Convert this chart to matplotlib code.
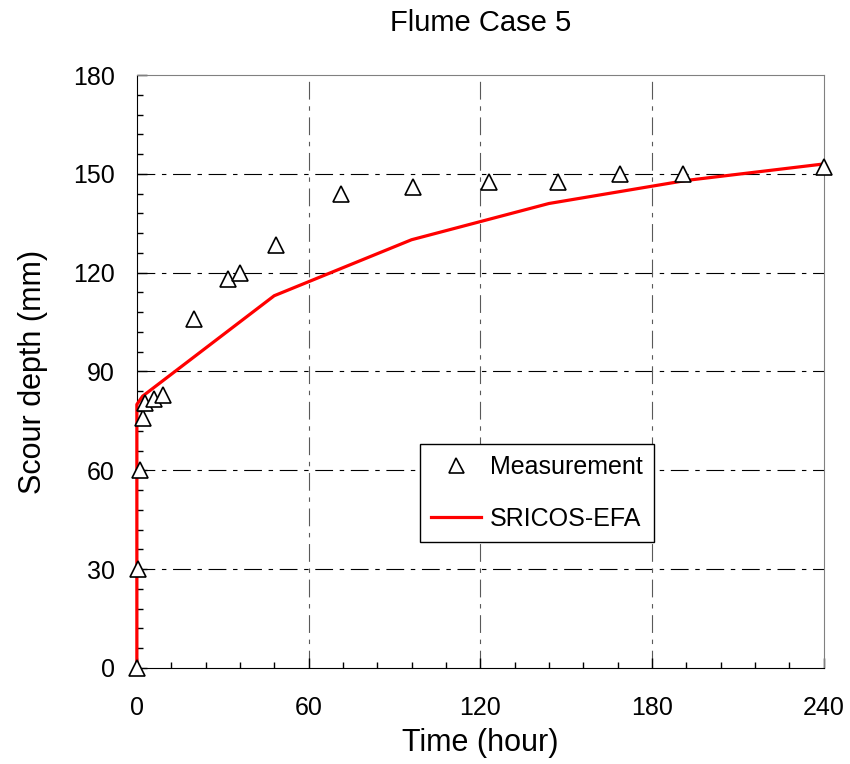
import numpy as np
import matplotlib
matplotlib.use('Agg')
import matplotlib.pyplot as plt
from matplotlib.ticker import MultipleLocator

plt.rcParams['font.family'] = ['Liberation Sans', 'DejaVu Sans']

# measured scour depth
meas_t = [0, 0.5, 1, 2, 3, 6, 9, 20, 32, 36, 48.5, 71.5, 96.5, 123, 147, 169, 191, 240]
meas_d = [0, 30, 60, 76, 80.5, 81.5, 83, 106, 118, 120, 128.5, 144, 146, 147.5, 147.5, 150, 150, 152]

# SRICOS-EFA prediction
pred_t = [0, 0, 2, 48, 72, 96, 120, 144, 168, 192, 216, 240]
pred_d = [0, 80, 82.5, 113, 121.5, 130, 135.5, 141, 144.5, 148, 150.5, 153]

fig = plt.figure(figsize=(8.5, 7.64), dpi=100)
ax = fig.add_axes([0.161, 0.1257, 0.808, 0.7761])

# dash-dot grid like the excel chart
dash = (0, (16, 6, 4, 6))
for y in [30, 60, 90, 120, 150]:
    ax.axhline(y, color='black', lw=0.8, linestyle=dash, zorder=1)
for x in [60, 120, 180]:
    ax.axvline(x, color='0.35', lw=0.8, linestyle=dash, zorder=1)

ax.plot(pred_t, pred_d, color='red', lw=2.3, label='SRICOS-EFA', zorder=3, clip_on=False)
ax.plot(meas_t, meas_d, linestyle='none', marker='^', ms=12, mfc='white',
        mec='black', mew=1.2, label='Measurement', zorder=4, clip_on=False)

ax.set_xlim(0, 240)
ax.set_ylim(0, 180)
ax.xaxis.set_major_locator(MultipleLocator(60))
ax.xaxis.set_minor_locator(MultipleLocator(12))
ax.yaxis.set_major_locator(MultipleLocator(30))
ax.yaxis.set_minor_locator(MultipleLocator(6))
ax.tick_params(which='both', direction='in', top=False, right=False, labelsize=18, width=1)
ax.tick_params(which='major', length=7)
ax.tick_params(which='minor', length=4)
ax.tick_params(axis='x', pad=20)
ax.tick_params(axis='y', pad=16)
for s in ['top', 'right']:
    ax.spines[s].set_color('0.5')

ax.set_xlabel('Time (hour)', fontsize=22, labelpad=6)
ax.set_ylabel('Scour depth (mm)', fontsize=22, labelpad=18)
ax.set_title('Flume Case 5', fontsize=21, pad=32)

handles, labels = ax.get_legend_handles_labels()
leg = ax.legend(handles[::-1], labels[::-1], loc='lower left', bbox_to_anchor=(0.412, 0.2125),
                borderaxespad=0, fontsize=18, fancybox=False, edgecolor='black',
                framealpha=1, handlelength=2.0, handletextpad=0.35, labelspacing=1.1,
                borderpad=0.45, markerscale=0.9)
leg.get_frame().set_linewidth(1.0)

fig.savefig('out.png', dpi=100)
